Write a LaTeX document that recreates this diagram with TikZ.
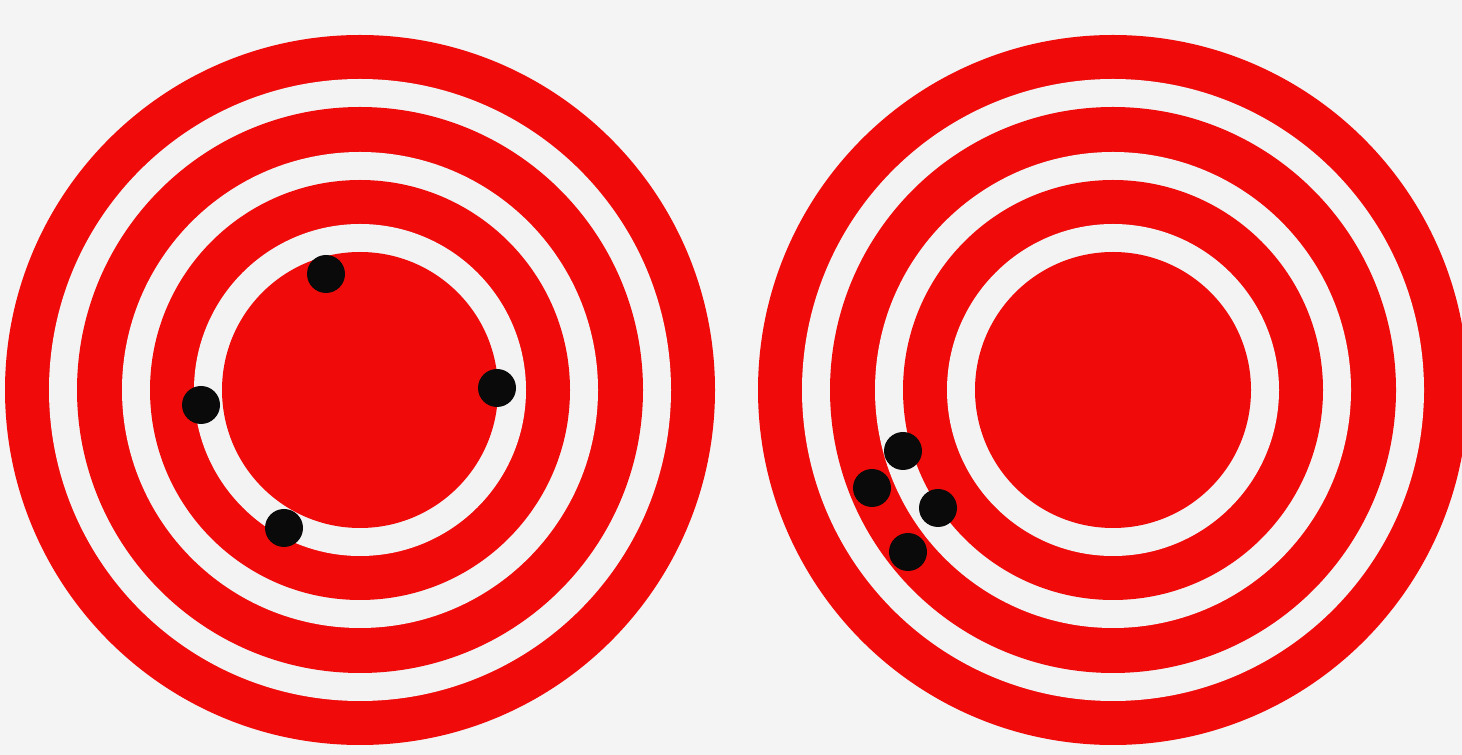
\documentclass[tikz,border=0pt]{standalone}
\definecolor{bg}{RGB}{244,244,244}
\definecolor{ringred}{RGB}{240,10,10}
\definecolor{ringwhite}{RGB}{243,243,243}
\definecolor{hole}{RGB}{10,10,10}
\tikzset{
  redring/.style={fill=ringred},
  whitering/.style={fill=ringwhite},
  shot/.style={fill=hole}
}
\newcommand{\mytarget}[2]{%
  \fill[redring]   (#1,#2) circle[radius=355pt];
  \fill[whitering] (#1,#2) circle[radius=311pt];
  \fill[redring]   (#1,#2) circle[radius=283pt];
  \fill[whitering] (#1,#2) circle[radius=238pt];
  \fill[redring]   (#1,#2) circle[radius=210pt];
  \fill[whitering] (#1,#2) circle[radius=166pt];
  \fill[redring]   (#1,#2) circle[radius=138pt];
}
\begin{document}
\begin{tikzpicture}[x=1pt,y=1pt]
\fill[bg] (0,0) rectangle (1462,755);
\useasboundingbox (0,0) rectangle (1462,755);
\begin{scope}
\clip (0,0) rectangle (1462,755);
% left target, centre (360,390) in image coordinates
\mytarget{360}{365}
% right target, centre (1113,390)
\mytarget{1113}{365}
\end{scope}
% shots on the left target
\fill[shot] (326,755-274) circle[radius=19pt];
\fill[shot] (497,755-388) circle[radius=19pt];
\fill[shot] (201,755-405) circle[radius=19pt];
\fill[shot] (284,755-528) circle[radius=19pt];
% shots on the right target
\fill[shot] (903,755-451) circle[radius=19pt];
\fill[shot] (872,755-488) circle[radius=19pt];
\fill[shot] (938,755-508) circle[radius=19pt];
\fill[shot] (908,755-552) circle[radius=19pt];
\end{tikzpicture}
\end{document}
